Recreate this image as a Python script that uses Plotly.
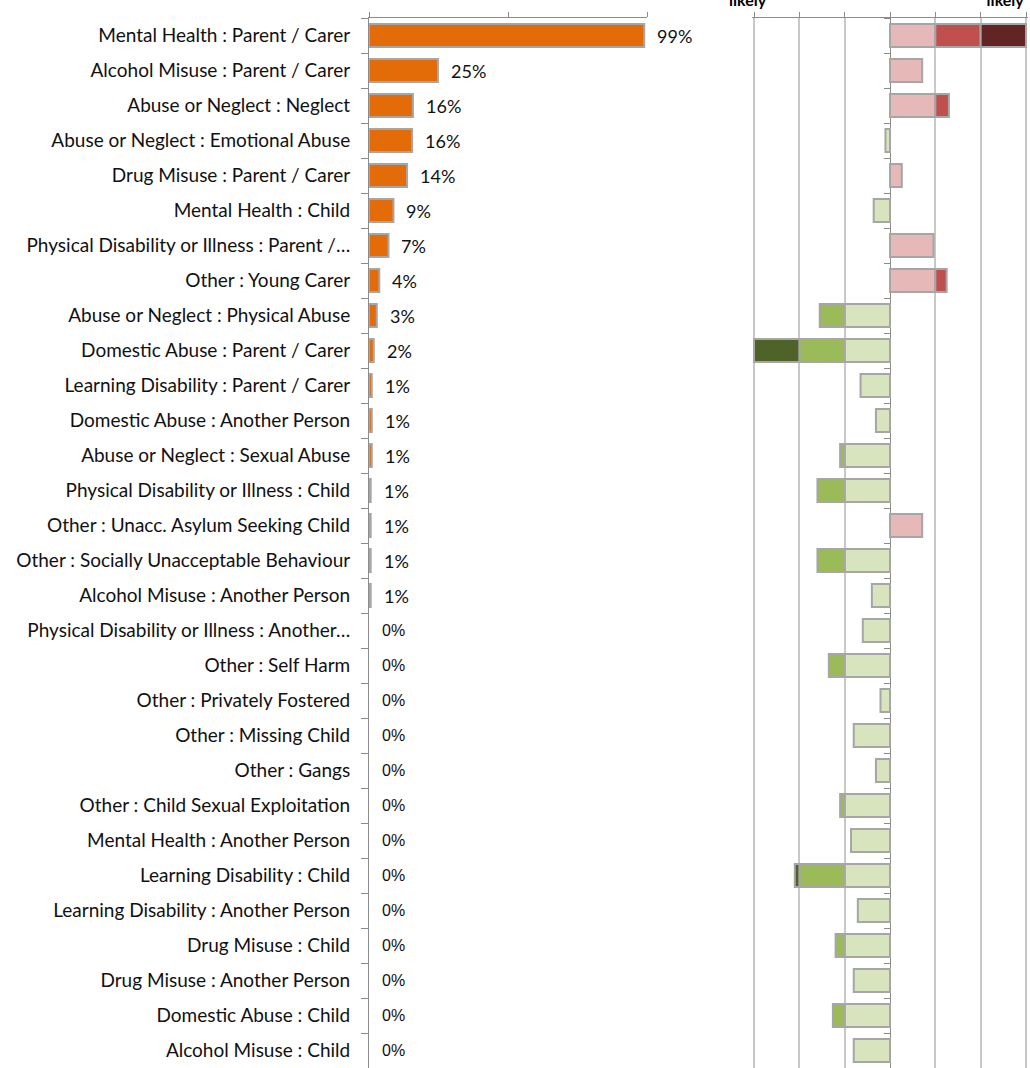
import plotly.graph_objects as go

categories = [
    "Mental Health : Parent / Carer",
    "Alcohol Misuse : Parent / Carer",
    "Abuse or Neglect : Neglect",
    "Abuse or Neglect : Emotional Abuse",
    "Drug Misuse : Parent / Carer",
    "Mental Health : Child",
    "Physical Disability or Illness : Parent /…",
    "Other : Young Carer",
    "Abuse or Neglect : Physical Abuse",
    "Domestic Abuse : Parent / Carer",
    "Learning Disability : Parent / Carer",
    "Domestic Abuse : Another Person",
    "Abuse or Neglect : Sexual Abuse",
    "Physical Disability or Illness : Child",
    "Other : Unacc. Asylum Seeking Child",
    "Other : Socially Unacceptable Behaviour",
    "Alcohol Misuse : Another Person",
    "Physical Disability or Illness : Another…",
    "Other : Self Harm",
    "Other : Privately Fostered",
    "Other : Missing Child",
    "Other : Gangs",
    "Other : Child Sexual Exploitation",
    "Mental Health : Another Person",
    "Learning Disability : Child",
    "Learning Disability : Another Person",
    "Drug Misuse : Child",
    "Drug Misuse : Another Person",
    "Domestic Abuse : Child",
    "Alcohol Misuse : Child",
]

share = [0.99, 0.248, 0.158, 0.155, 0.137, 0.088, 0.07, 0.037, 0.028, 0.017,
         0.010, 0.010, 0.010, 0.006, 0.006, 0.006, 0.006, 0, 0, 0,
         0, 0, 0, 0, 0, 0, 0, 0, 0, 0]

likelihood = [3.0, 0.71, 1.30, -0.10, 0.26, -0.36, 0.96, 1.25, -1.55, -3.0,
              -0.65, -0.31, -1.10, -1.60, 0.71, -1.60, -0.40, -0.60, -1.35, -0.21,
              -0.80, -0.31, -1.10, -0.86, -2.10, -0.71, -1.20, -0.80, -1.26, -0.80]

header_left = "Less<br>likely"
header_right = "More<br>likely"

ORANGE = "#E36C09"
EDGE = "#A6A6A6"
GRID = "#C8C8C8"
AXIS = "#8C8C8C"
pos_colors = ["#E6B9B8", "#C0504D", "#632523"]
neg_colors = ["#D7E4BD", "#9BBB59", "#4F6228"]

fig = go.Figure()

# left panel bars
fig.add_trace(go.Bar(
    y=categories, x=[v if v > 0 else None for v in share], orientation="h",
    marker=dict(color=ORANGE, line=dict(color=EDGE, width=2)),
    xaxis="x", yaxis="y", showlegend=False, hoverinfo="skip",
))

annotations = []
for c, v in zip(categories, share):
    txt = f"{v:.0%}"
    if v > 0:
        fnt = dict(family="Lato, sans-serif", size=18, color="#111111")
    else:
        fnt = dict(family="Liberation Sans, Arial, sans-serif", size=16, color="#111111")
    annotations.append(dict(
        x=v, y=c, xref="x", yref="y", text=txt, showarrow=False,
        xanchor="left", xshift=11, font=fnt,
    ))


def band(v, k, sign):
    a = v * sign
    if a <= 0:
        return None
    seg = min(max(a - k, 0), 1) if k < 2 else max(a - 2, 0)
    return seg * sign if seg != 0 else None


for k in range(3):
    fig.add_trace(go.Bar(
        y=categories, x=[band(v, k, 1) for v in likelihood], orientation="h",
        marker=dict(color=pos_colors[k], line=dict(color=EDGE, width=2)),
        xaxis="x2", yaxis="y2", showlegend=False, hoverinfo="skip",
    ))
for k in range(3):
    fig.add_trace(go.Bar(
        y=categories, x=[band(v, k, -1) for v in likelihood], orientation="h",
        marker=dict(color=neg_colors[k], line=dict(color=EDGE, width=2)),
        xaxis="x2", yaxis="y2", showlegend=False, hoverinfo="skip",
    ))

hdr_font = dict(family="Lato, sans-serif", size=16, color="#000000", weight="bold")
annotations.append(dict(x=748 / 1030, y=1, xref="paper", yref="paper", yanchor="bottom",
                        xanchor="center", yshift=7, text=header_left, showarrow=False,
                        font=hdr_font))
annotations.append(dict(x=1005 / 1030, y=1, xref="paper", yref="paper", yanchor="bottom",
                        xanchor="center", yshift=7, text=header_right, showarrow=False,
                        font=hdr_font))

L0, L1 = 369 / 1030, 647 / 1030
U = 272 / 6.0  # px per unit on right panel
PAD = 0.05
R0, R1 = (754 - PAD * U) / 1030, (1026 + PAD * U) / 1030
Z = 890 / 1030

fig.update_layout(
    width=1030, height=1068,
    margin=dict(l=0, r=0, t=18, b=0),
    paper_bgcolor="white", plot_bgcolor="rgba(0,0,0,0)",
    barmode="relative", bargap=0.34,
    font=dict(family="Lato, sans-serif", size=19, color="#111111"),
    annotations=annotations,
    xaxis=dict(domain=[L0, L1], range=[0, 1], side="top", tickvals=[0, 0.5, 1],
               showticklabels=False, ticks="outside", ticklen=5, tickcolor=AXIS,
               showline=True, linecolor=AXIS, linewidth=1, showgrid=False, zeroline=False),
    yaxis=dict(domain=[0, 1], autorange="reversed", type="category",
               ticks="outside", tickson="boundaries", ticklen=7, tickcolor=AXIS,
               showline=True, linecolor=AXIS, linewidth=1, showgrid=False,
               ticklabelstandoff=14, anchor="x",
               tickfont=dict(family="Lato, sans-serif", size=19, color="#111111")),
    xaxis2=dict(domain=[R0, R1], range=[-3 - PAD, 3 + PAD], side="top",
                tickvals=[-3, -2, -1, 0, 1, 2, 3], anchor="y2",
                showticklabels=False, ticks="outside", ticklen=5, tickcolor=AXIS,
                showline=True, linecolor=AXIS, linewidth=1,
                showgrid=True, gridcolor=GRID, gridwidth=2,
                zeroline=True, zerolinecolor=AXIS, zerolinewidth=1),
    yaxis2=dict(domain=[0, 1], autorange="reversed", type="category",
                anchor="free", position=Z, showticklabels=False,
                ticks="outside", tickson="boundaries", ticklen=6, tickcolor=AXIS,
                showline=False, showgrid=False),
)

fig.write_html("out.html", config={"displayModeBar": False},
               post_script="document.body.style.margin='0';")
